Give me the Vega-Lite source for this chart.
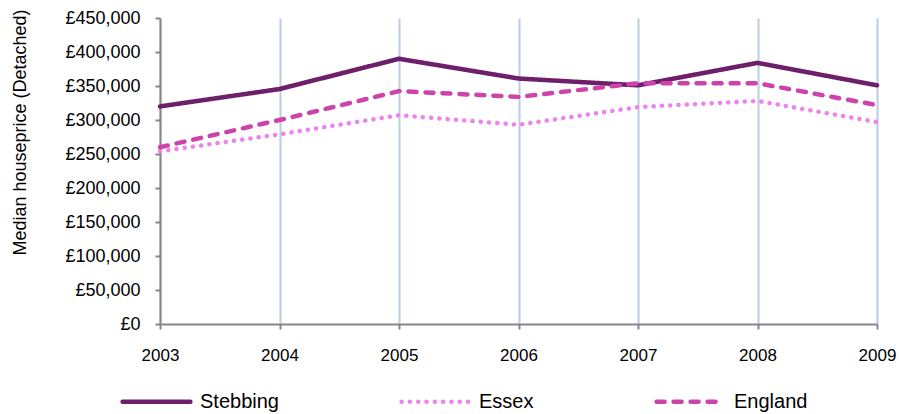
{
  "$schema": "https://vega.github.io/schema/vega-lite/v6.json",
  "width": 717,
  "height": 306,
  "autosize": {"type": "none"},
  "padding": {"left": 160, "top": 18, "right": 22, "bottom": 90},
  "background": "white",
  "config": {
    "font": "Liberation Sans",
    "view": {"stroke": null}
  },
  "data": {
    "values": [
      {"year": 2003, "area": "Stebbing", "price": 320000},
      {"year": 2004, "area": "Stebbing", "price": 345500},
      {"year": 2005, "area": "Stebbing", "price": 390000},
      {"year": 2006, "area": "Stebbing", "price": 361000},
      {"year": 2007, "area": "Stebbing", "price": 351000},
      {"year": 2008, "area": "Stebbing", "price": 384000},
      {"year": 2009, "area": "Stebbing", "price": 351000},
      {"year": 2003, "area": "Essex", "price": 254000},
      {"year": 2004, "area": "Essex", "price": 279000},
      {"year": 2005, "area": "Essex", "price": 307000},
      {"year": 2006, "area": "Essex", "price": 293000},
      {"year": 2007, "area": "Essex", "price": 319000},
      {"year": 2008, "area": "Essex", "price": 328000},
      {"year": 2009, "area": "Essex", "price": 297000},
      {"year": 2003, "area": "England", "price": 260000},
      {"year": 2004, "area": "England", "price": 300000},
      {"year": 2005, "area": "England", "price": 342500},
      {"year": 2006, "area": "England", "price": 334000},
      {"year": 2007, "area": "England", "price": 354000},
      {"year": 2008, "area": "England", "price": 354000},
      {"year": 2009, "area": "England", "price": 322000}
    ]
  },
  "mark": {"type": "line", "strokeWidth": 4.5, "strokeCap": "round", "strokeJoin": "round"},
  "encoding": {
    "x": {
      "field": "year",
      "type": "quantitative",
      "scale": {"domain": [2003, 2009], "nice": false, "zero": false},
      "axis": {
        "title": null,
        "values": [2003, 2004, 2005, 2006, 2007, 2008, 2009],
        "format": "d",
        "grid": true,
        "gridColor": "#b9cde5",
        "gridWidth": 2,
        "domainColor": "#868686",
        "domainWidth": 2,
        "tickColor": "#868686",
        "tickWidth": 2,
        "tickSize": 5,
        "labelFontSize": 17,
        "labelColor": "#000000",
        "labelPadding": 18,
        "labelFlush": false
      }
    },
    "y": {
      "field": "price",
      "type": "quantitative",
      "scale": {"domain": [0, 450000], "nice": false},
      "axis": {
        "title": "Median houseprice (Detached)",
        "titleFontSize": 18,
        "titleFontWeight": "normal",
        "titleColor": "#000000",
        "titleX": -140,
        "titleY": 114,
        "titleAngle": -90,
        "titleAlign": "center",
        "titleBaseline": "middle",
        "values": [0, 50000, 100000, 150000, 200000, 250000, 300000, 350000, 400000, 450000],
        "labelExpr": "'£' + format(datum.value, ',')",
        "grid": false,
        "domainColor": "#868686",
        "domainWidth": 2,
        "tickColor": "#868686",
        "tickWidth": 2,
        "tickSize": 5,
        "labelFontSize": 18,
        "labelColor": "#000000",
        "labelPadding": 15
      }
    },
    "color": {
      "field": "area",
      "type": "nominal",
      "scale": {"domain": ["Stebbing", "Essex", "England"], "range": ["#6d1f6b", "#ee82ee", "#cc44aa"]},
      "legend": {
        "title": null,
        "orient": "none",
        "legendX": -40,
        "legendY": 347,
        "direction": "horizontal",
        "symbolType": "stroke",
        "symbolSize": 4600,
        "symbolStrokeWidth": 4.5,
        "labelFontSize": 20,
        "labelColor": "#000000",
        "labelOffset": 7,
        "columnPadding": 113,
        "encode": {"symbols": {"update": {"strokeCap": {"value": "round"}}}}
      }
    },
    "strokeDash": {
      "field": "area",
      "type": "nominal",
      "scale": {"domain": ["Stebbing", "Essex", "England"], "range": [[1, 0], [0.1, 8.2], [8, 9]]},
      "legend": null
    }
  }
}
